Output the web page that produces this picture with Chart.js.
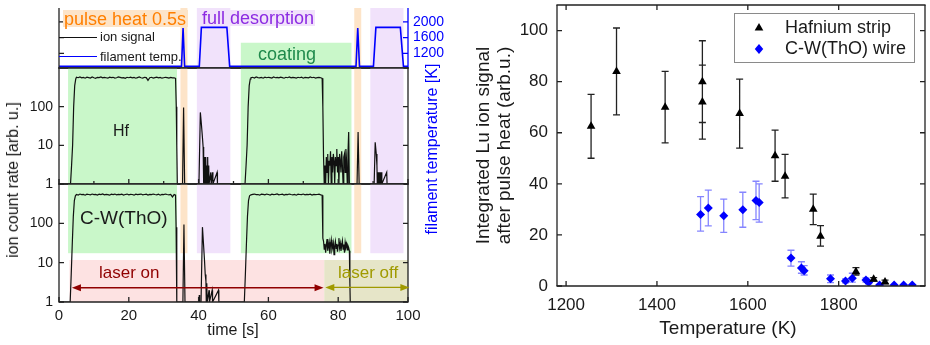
<!DOCTYPE html>
<html>
<head>
<meta charset="utf-8">
<title>Lu ion signal</title>
<script src="https://cdn.jsdelivr.net/npm/chart.js@4.4.1/dist/chart.umd.min.js"></script>
<style>
  body { margin: 0; background: #fff; }
  #fig { position: relative; width: 930px; height: 345px; overflow: hidden;
         font-family: 'Liberation Sans', Arial, sans-serif; color: #1a1a1a; }
  #fig canvas { position: absolute; }
  .txt { position: absolute; white-space: nowrap; }
  .rot { transform: translate(-50%, -50%) rotate(-90deg); }
  .key { position: absolute; height: 0; width: 38px; }
</style>
</head>
<body>
<div id="fig">
  <canvas id="tempChart" width="470" height="88" style="left:0;top:-6px"></canvas>
  <canvas id="hfChart" width="470" height="146" style="left:0;top:53px"></canvas>
  <canvas id="cwChart" width="470" height="176" style="left:0;top:169px"></canvas>
  <canvas id="intChart" width="470" height="360" style="left:460px;top:-15px"></canvas>

  <div class="txt" style="left:63px;top:10px;width:124px;height:17px;padding-left:1px;font-size:18px;line-height:19px;background:#fde4c8;color:#ff7f00;">pulse heat 0.5s</div>
  <div class="txt" style="left:199px;top:10px;width:113px;height:16px;padding-left:3px;font-size:18px;line-height:16px;background:#f1e2fb;color:#8c2be2;">full desorption</div>
  <div class="txt" style="left:258px;top:45px;font-size:18px;line-height:18px;color:#208a4c;">coating</div>
  <div class="key" style="left:59px;top:37px;border-top:1.5px solid #111;"></div>
  <div class="txt" style="left:100px;top:30px;font-size:13px;line-height:14px;">ion signal</div>
  <div class="key" style="left:59px;top:56px;border-top:1.5px solid #0000ff;"></div>
  <div class="txt" style="left:100px;top:50px;font-size:13px;line-height:14px;">filament temp.</div>
  <div class="txt" style="left:113px;top:123px;font-size:16px;line-height:16px;">Hf</div>
  <div class="txt" style="left:80px;top:208px;font-size:19px;line-height:19px;">C-W(ThO)</div>
  <div class="txt" style="left:99px;top:264px;font-size:17px;line-height:17px;color:#900000;">laser on</div>
  <div class="txt" style="left:338px;top:264px;font-size:17px;line-height:17px;color:#a09a00;">laser off</div>
  <div class="txt rot" style="left:13px;top:180px;font-size:16px;line-height:16px;">ion count rate [arb. u.]</div>
  <div class="txt rot" style="left:432px;top:149px;font-size:16px;line-height:16px;color:#0000ff;">filament temperature [K]</div>
  <div class="txt" style="left:233px;top:322px;font-size:16px;line-height:16px;transform:translateX(-50%);">time [s]</div>
  <div class="txt" style="left:728px;top:318px;font-size:19px;line-height:19px;transform:translateX(-50%);">Temperature (K)</div>
</div>

<script>
// ---- left panel: time traces, [time (s), value] ----
const filamentTemp = [
  [0, 870], [35.1, 870], [35.55, 1840], [36.0, 870],
  [40.2, 870], [40.8, 1860], [48.1, 1860], [48.9, 870],
  [85.1, 870], [85.6, 1840], [86.1, 870],
  [90.1, 870], [90.8, 1860], [97.8, 1860], [98.7, 870], [100, 870]
];

const hfIon = [
  [0, 1], [3.3, 1], [3.6, 3], [3.9, 10], [4.2, 100], [4.5, 350], [4.8, 520],
  [5, 575], [5.5, 560], [6, 590], [6.5, 555], [7, 570], [7.5, 545], [8, 580], [8.5, 565], [9, 550], [9.5, 585],
  [10, 560], [10.5, 540], [11, 575], [11.5, 565], [12, 590], [12.5, 555], [13, 570], [13.5, 560], [14, 545], [14.5, 580],
  [15, 565], [15.5, 575], [16, 550], [16.5, 560], [17, 585], [17.5, 570], [18, 555], [18.5, 565], [19, 540], [19.5, 575],
  [20, 560], [20.5, 580], [21, 555], [21.5, 570], [22, 545], [22.5, 565], [23, 585], [23.5, 560], [24, 550], [24.5, 575],
  [25, 565], [25.5, 480], [26, 560], [26.5, 575], [27, 550], [27.5, 565], [28, 580], [28.5, 555], [29, 570], [29.5, 545],
  [30, 560], [30.5, 575], [31, 565], [31.5, 550], [32, 570], [32.5, 555], [33, 560],
  [33.4, 540], [33.6, 100], [33.75, 10], [33.9, 1],
  [35.4, 1], [35.7, 95], [36, 1],
  [40.1, 1], [40.5, 71], [40.8, 35], [41.1, 16], [41.3, 9], [41.4, 1], [41.5, 5], [41.6, 1], [41.7, 5], [41.8, 1],
  [41.9, 4], [42, 1], [42.1, 5], [42.2, 1], [42.35, 3], [42.45, 1], [42.6, 5], [42.7, 1], [42.9, 3], [43, 1],
  [43.5, 2], [43.6, 1], [44, 2], [44.1, 1], [45.3, 2], [45.4, 1],
  [53.3, 1], [53.6, 3], [53.9, 10], [54.2, 100], [54.5, 350], [54.8, 520],
  [55, 560], [55.5, 575], [56, 550], [56.5, 585], [57, 565], [57.5, 555], [58, 570], [58.5, 545], [59, 580], [59.5, 560],
  [60, 575], [60.5, 565], [61, 550], [61.5, 590], [62, 560], [62.5, 570], [63, 555], [63.5, 580], [64, 565], [64.5, 545],
  [65, 575], [65.5, 560], [66, 585], [66.5, 555], [67, 570], [67.5, 565], [68, 550], [68.5, 575], [69, 560], [69.5, 580],
  [70, 545], [70.5, 570], [71, 565], [71.5, 555], [72, 585], [72.5, 560], [73, 575], [73.5, 550], [74, 565], [74.5, 570], [75, 560],
  [75.4, 540], [75.6, 100], [75.8, 5], [76, 1],
  [76.2, 3], [76.4, 1], [76.6, 5], [76.8, 2], [77, 6], [77.2, 1], [77.4, 4], [77.6, 3], [77.8, 7], [78, 1],
  [78.2, 5], [78.4, 2], [78.6, 6], [78.8, 4], [79, 1], [79.2, 5], [79.4, 3], [79.6, 8], [79.8, 2], [80, 5],
  [80.2, 1], [80.4, 6], [80.6, 4], [80.8, 2], [81, 7], [81.2, 3], [81.4, 1], [81.6, 5], [81.8, 6], [82, 2],
  [82.2, 8], [82.4, 4], [82.6, 1], [82.8, 6], [83, 22], [83.2, 1],
  [85.4, 1], [85.7, 22], [86, 1],
  [90.3, 1], [90.6, 12], [90.9, 6], [91.1, 3], [91.2, 1], [91.4, 2], [91.5, 1], [91.7, 2], [91.8, 1],
  [92, 2], [92.1, 1], [92.4, 2], [92.5, 1], [93.9, 2], [94, 1], [100, 1]
];

const cwIon = [
  [0, 1], [3.2, 1], [3.5, 5], [3.8, 30], [4.1, 150], [4.4, 380], [4.7, 500],
  [5, 540], [5.5, 525], [6, 555], [6.5, 535], [7, 545], [7.5, 520], [8, 550], [8.5, 540], [9, 530], [9.5, 555],
  [10, 535], [10.5, 545], [11, 525], [11.5, 550], [12, 540], [12.5, 560], [13, 530], [13.5, 545], [14, 535], [14.5, 520],
  [15, 550], [15.5, 540], [16, 555], [16.5, 530], [17, 545], [17.5, 535], [18, 550], [18.5, 525], [19, 540], [19.5, 555],
  [20, 530], [20.5, 545], [21, 540], [21.5, 520], [22, 550], [22.5, 535], [23, 545], [23.5, 555], [24, 530], [24.5, 540],
  [25, 550], [25.5, 525], [26, 545], [26.5, 535], [27, 555], [27.5, 540], [28, 530], [28.5, 550], [29, 520], [29.5, 545],
  [30, 535], [30.5, 555], [31, 540], [31.5, 530], [32, 545], [32.5, 470], [33, 540],
  [33.4, 520], [33.55, 80], [33.7, 5], [33.8, 1],
  [35.5, 1], [35.8, 93], [36.1, 1],
  [40.1, 1], [40.2, 1.5], [40.3, 1], [40.7, 1], [41.1, 80], [41.4, 30], [41.7, 11], [41.9, 5], [42.1, 3.4], [42.2, 1],
  [42.35, 3], [42.45, 1], [43, 2], [43.1, 1], [43.9, 2], [44, 1], [45.7, 2], [45.8, 1],
  [53.1, 1], [53.4, 5], [53.7, 30], [54, 150], [54.3, 380], [54.6, 500],
  [55, 530], [55.5, 545], [56, 555], [56.5, 535], [57, 540], [57.5, 520], [58, 550], [58.5, 545], [59, 530], [59.5, 555],
  [60, 540], [60.5, 525], [61, 550], [61.5, 535], [62, 545], [62.5, 560], [63, 530], [63.5, 540], [64, 550], [64.5, 525],
  [65, 545], [65.5, 535], [66, 555], [66.5, 540], [67, 530], [67.5, 545], [68, 520], [68.5, 550], [69, 540], [69.5, 535],
  [70, 555], [70.5, 530], [71, 545], [71.5, 540], [72, 550], [72.5, 525], [73, 545], [73.5, 535], [74, 540], [74.5, 550], [75, 530],
  [75.4, 520], [75.6, 42],
  [75.8, 35], [76, 22], [76.2, 30], [76.4, 18], [76.6, 28], [76.8, 40], [77, 20], [77.2, 26], [77.4, 33], [77.6, 17],
  [77.8, 29], [78, 38], [78.2, 21], [78.4, 25], [78.6, 32], [78.8, 16], [79, 27], [79.2, 35], [79.4, 23], [79.6, 30],
  [79.8, 19], [80, 28], [80.2, 42], [80.4, 24], [80.6, 31], [80.8, 20], [81, 27], [81.2, 36], [81.4, 22], [81.6, 29],
  [81.8, 18], [82, 33], [82.2, 25], [82.4, 30], [82.6, 21], [82.8, 27], [83, 24], [83.2, 20],
  [83.35, 3], [83.45, 1], [100, 1]
];

// shaded phases (time in s)
const coatingSpans = [[2.6, 33.8], [52.1, 83.8]];
const pulseSpans = [[34.8, 36.8], [84.6, 86.6]];
const desorbSpans = [[39.5, 49.1], [89.2, 98.7]];
const laserOnSpan = [3.0, 76.0];
const laserOffSpan = [76.0, 100];
const laserOnArrow = [3.7, 75.8];
const laserOffArrow = [76.3, 100.4];

const timeTicks = [0, 20, 40, 60, 80, 100];
const tempTicks = [1200, 1600, 2000];
const countTicks = [1, 10, 100];

// ---- right panel: integrated signal vs temperature ----
const hfTemp = [1255, 1311, 1418, 1500, 1500, 1582, 1660, 1682, 1744, 1760, 1838, 1877, 1902];
const hfInt = [62.5, 84, 70, 80, 72, 67.5, 51, 43, 30, 19.5, 5.6, 2.6, 1.6];
const hfLow = [50, 67, 56, 64, 57.5, 54, 41, 34.5, 24, 15.6, 4.3, 1.9, 0.9];
const hfHigh = [75, 101, 84, 96, 86.5, 81, 61, 51.5, 36, 23.6, 7.2, 3.3, 2.3];

const cwTemp = [1496, 1513, 1547, 1589, 1618, 1625, 1695, 1718, 1724, 1782, 1815, 1830, 1860, 1866, 1890, 1922, 1943, 1962];
const cwInt = [28, 30.5, 27.5, 29.8, 33.5, 32.7, 11, 7, 6, 2.8, 2, 3, 2.3, 1.4, 0.4, 0.4, 0.4, 0.4];
const cwLow = [21.5, 23.5, 21, 23, 26, 25, 7.8, 5, 4.3, 1.3, 1.2, 1.5, 1.5, 0.8, 0.2, 0.2, 0.2, 0.2];
const cwHigh = [35, 37.5, 34, 36.7, 41, 40, 14, 9.5, 8, 4.3, 2.8, 5, 3.2, 2.2, 0.6, 0.6, 0.6, 0.6];

const tempAxisSteps = [1200, 1300, 1400, 1500, 1600, 1700, 1800, 1900];
const tempAxisTicks = [1200, 1400, 1600, 1800];
const intAxisSteps = [0, 10, 20, 30, 40, 50, 60, 70, 80, 90, 100, 110];
const intAxisTicks = [0, 20, 40, 60, 80, 100];

// colours
const GREEN = '#c9f7c9', ORANGE = '#fde4c8', PURPLE = '#f1e2fb', PINK = '#fde2e2', OLIVE = '#e6e5c8';
const INK = '#1a1a1a';

Chart.defaults.font.family = "'Liberation Sans', Arial, sans-serif";
Chart.defaults.color = INK;

const isDecade = v => Math.abs(Math.log10(v) - Math.round(Math.log10(v))) < 1e-6;
const pts = arr => arr.map(p => ({x: p[0], y: p[1]}));
const fixedTicks = list => s => { s.ticks = list.map(v => ({value: v})); };

// shaded rectangles behind the traces
function bandsPlugin(list, yId) {
  return {
    id: 'bands',
    beforeDatasetsDraw(chart) {
      const {ctx, chartArea: a} = chart;
      const xs = chart.scales.x, ys = chart.scales[yId];
      ctx.save();
      ctx.beginPath();
      ctx.rect(a.left, a.top, a.right - a.left, a.bottom - a.top);
      ctx.clip();
      list.forEach(b => {
        const x0 = xs.getPixelForValue(b.x[0]), x1 = xs.getPixelForValue(b.x[1]);
        const top = b.y ? ys.getPixelForValue(b.y[1]) : a.top;
        const bot = b.y ? ys.getPixelForValue(b.y[0]) : a.bottom;
        ctx.fillStyle = b.color;
        ctx.fillRect(x0, top, x1 - x0, bot - top);
      });
      ctx.restore();
    }
  };
}

// box lines with inward ticks
function framePlugin(sides) {
  return {
    id: 'frame',
    afterDatasetsDraw(chart) {
      const {ctx, chartArea: a} = chart;
      ctx.save();
      ctx.lineWidth = 1.3;
      sides.forEach(s => {
        const sc = chart.scales[s.scale];
        const horiz = s.side === 'top' || s.side === 'bottom';
        const edge = a[s.side];
        const dir = (s.side === 'left' || s.side === 'top') ? 1 : -1;
        ctx.strokeStyle = s.color || '#222';
        ctx.beginPath();
        if (horiz) { ctx.moveTo(a.left - 0.6, edge); ctx.lineTo(a.right + 0.6, edge); }
        else { ctx.moveTo(edge, a.top); ctx.lineTo(edge, a.bottom); }
        if (s.major) {
          sc.ticks.forEach(t => {
            const p = sc.getPixelForValue(t.value);
            const lo = horiz ? a.left : a.top, hi = horiz ? a.right : a.bottom;
            if (p < lo - 0.5 || p > hi + 0.5) return;
            const len = s.major(t.value) ? 5 : 3;
            if (horiz) { ctx.moveTo(p, edge); ctx.lineTo(p, edge + dir * len); }
            else { ctx.moveTo(edge, p); ctx.lineTo(edge + dir * len, p); }
          });
        }
        ctx.stroke();
      });
      ctx.restore();
    }
  };
}

function arrowsPlugin(list) {
  return {
    id: 'arrows',
    afterDatasetsDraw(chart) {
      const {ctx} = chart;
      const xs = chart.scales.x, ys = chart.scales.y;
      ctx.save();
      list.forEach(ar => {
        const x0 = xs.getPixelForValue(ar.x[0]), x1 = xs.getPixelForValue(ar.x[1]);
        const y = ys.getPixelForValue(ar.y);
        ctx.strokeStyle = ar.color; ctx.fillStyle = ar.color; ctx.lineWidth = 1.4;
        ctx.beginPath(); ctx.moveTo(x0 + 6, y); ctx.lineTo(x1 - 6, y); ctx.stroke();
        ctx.beginPath(); ctx.moveTo(x0, y); ctx.lineTo(x0 + 9, y - 3.5); ctx.lineTo(x0 + 9, y + 3.5); ctx.closePath(); ctx.fill();
        ctx.beginPath(); ctx.moveTo(x1, y); ctx.lineTo(x1 - 9, y - 3.5); ctx.lineTo(x1 - 9, y + 3.5); ctx.closePath(); ctx.fill();
      });
      ctx.restore();
    }
  };
}

const timeMajor = v => v % 20 === 0;
const xHidden = {
  type: 'linear', min: 0, max: 100,
  grid: {display: false, drawTicks: false}, border: {display: false},
  ticks: {display: false, stepSize: 10},
  afterFit: s => { s.height = 0; }
};
const logAxis = {
  type: 'logarithmic', min: 1, max: 1000,
  grid: {display: false, drawTicks: false}, border: {display: false},
  ticks: {autoSkip: false, padding: 6, font: {size: 14},
          callback: v => (isDecade(v) && countTicks.includes(Math.round(v))) ? String(Math.round(v)) : null},
  afterFit: s => { s.width = 59; }
};
const baseOpts = {
  responsive: false, animation: false, events: [],
  plugins: {legend: {display: false}, tooltip: {enabled: false}}
};
const traceStyle = {showLine: true, pointRadius: 0, borderColor: '#111', borderWidth: 1.2, tension: 0};

// top: filament temperature
new Chart('tempChart', {
  type: 'scatter',
  data: {datasets: [{data: pts(filamentTemp), yAxisID: 'yT', showLine: true, pointRadius: 0,
                     borderColor: '#0000ff', borderWidth: 1.6}]},
  options: Object.assign({}, baseOpts, {
    layout: {padding: {top: 14, bottom: 14, left: 59, right: 0}},
    scales: {
      x: xHidden,
      yT: {type: 'linear', position: 'right', min: 830, max: 2350,
           grid: {display: false, drawTicks: false}, border: {display: false},
           ticks: {stepSize: 200, includeBounds: false, autoSkip: false, padding: 5, color: '#0000ff', font: {size: 14},
                   callback: v => tempTicks.includes(v) ? String(v) : null},
           afterFit: s => { s.width = 62; }}
    }
  }),
  plugins: [
    bandsPlugin([
      {x: pulseSpans[0], color: ORANGE}, {x: pulseSpans[1], color: ORANGE},
      {x: desorbSpans[0], color: PURPLE}, {x: desorbSpans[1], color: PURPLE},
      {x: coatingSpans[1], y: [830, 1470], color: GREEN}
    ], 'yT'),
    framePlugin([
      {side: 'left', scale: 'yT', major: v => v % 400 === 0},
      {side: 'right', scale: 'yT', color: '#0000ff', major: v => v % 400 === 0},
      {side: 'bottom', scale: 'x'}
    ])
  ]
});

// middle: Hf strip
new Chart('hfChart', {
  type: 'scatter',
  data: {datasets: [Object.assign({data: pts(hfIon)}, traceStyle)]},
  options: Object.assign({}, baseOpts, {
    layout: {padding: {top: 15, bottom: 15, left: 0, right: 62}},
    scales: {x: xHidden, y: logAxis}
  }),
  plugins: [
    bandsPlugin([
      {x: coatingSpans[0], color: GREEN}, {x: coatingSpans[1], color: GREEN},
      {x: pulseSpans[0], color: ORANGE}, {x: pulseSpans[1], color: ORANGE},
      {x: desorbSpans[0], color: PURPLE}, {x: desorbSpans[1], color: PURPLE}
    ], 'y'),
    framePlugin([
      {side: 'left', scale: 'y', major: isDecade},
      {side: 'right', scale: 'y', major: isDecade},
      {side: 'top', scale: 'x'},
      {side: 'bottom', scale: 'x', major: timeMajor}
    ])
  ]
});

// bottom: C-W(ThO) wire
new Chart('cwChart', {
  type: 'scatter',
  data: {datasets: [Object.assign({data: pts(cwIon)}, traceStyle)]},
  options: Object.assign({}, baseOpts, {
    layout: {padding: {top: 15, bottom: 0, left: 0, right: 62}},
    scales: {
      x: {type: 'linear', min: 0, max: 100,
          grid: {display: false, drawTicks: false}, border: {display: false},
          ticks: {stepSize: 10, autoSkip: false, maxRotation: 0, padding: 5, font: {size: 15},
                  callback: v => timeTicks.includes(v) ? String(v) : null},
          afterFit: s => { s.height = 43; }},
      y: logAxis
    }
  }),
  plugins: [
    bandsPlugin([
      {x: coatingSpans[0], y: [17.4, 1000], color: GREEN}, {x: coatingSpans[1], y: [17.4, 1000], color: GREEN},
      {x: pulseSpans[0], y: [17.4, 1000], color: ORANGE}, {x: pulseSpans[1], y: [17.4, 1000], color: ORANGE},
      {x: desorbSpans[0], y: [17.4, 1000], color: PURPLE}, {x: desorbSpans[1], y: [17.4, 1000], color: PURPLE},
      {x: laserOnSpan, y: [1, 11.7], color: PINK}, {x: laserOffSpan, y: [1, 11.7], color: OLIVE}
    ], 'y'),
    framePlugin([
      {side: 'left', scale: 'y', major: isDecade},
      {side: 'right', scale: 'y', major: isDecade},
      {side: 'top', scale: 'x'},
      {side: 'bottom', scale: 'x', major: timeMajor}
    ]),
    arrowsPlugin([
      {x: laserOnArrow, y: 2.3, color: '#900000'},
      {x: laserOffArrow, y: 2.35, color: '#a09a00'}
    ])
  ]
});

// right panel
function triangle(ctx, x, y, r) {
  ctx.beginPath();
  ctx.moveTo(x, y - r);
  ctx.lineTo(x + r * 0.866, y + r * 0.5);
  ctx.lineTo(x - r * 0.866, y + r * 0.5);
  ctx.closePath(); ctx.fill();
}
function diamond(ctx, x, y, r) {
  ctx.beginPath();
  ctx.moveTo(x, y - r); ctx.lineTo(x + r * 0.85, y); ctx.lineTo(x, y + r); ctx.lineTo(x - r * 0.85, y);
  ctx.closePath(); ctx.fill();
}

const errorBars = {
  id: 'errorBars',
  beforeDatasetsDraw(chart) {
    const {ctx} = chart;
    const xs = chart.scales.x, ys = chart.scales.y;
    const sets = [
      {t: cwTemp, lo: cwLow, hi: cwHigh, color: '#8585ff'},
      {t: hfTemp, lo: hfLow, hi: hfHigh, color: '#222'}
    ];
    ctx.save();
    ctx.lineWidth = 1.3;
    sets.forEach(e => {
      ctx.strokeStyle = e.color;
      ctx.beginPath();
      e.t.forEach((t, i) => {
        const px = xs.getPixelForValue(t);
        const lo = ys.getPixelForValue(e.lo[i]), hi = ys.getPixelForValue(e.hi[i]);
        if (Math.abs(lo - hi) < 3) return;
        ctx.moveTo(px, lo); ctx.lineTo(px, hi);
        ctx.moveTo(px - 3.5, lo); ctx.lineTo(px + 3.5, lo);
        ctx.moveTo(px - 3.5, hi); ctx.lineTo(px + 3.5, hi);
      });
      ctx.stroke();
    });
    ctx.restore();
  }
};

const legendBox = {
  id: 'legendBox',
  afterDraw(chart) {
    const {ctx, chartArea: a} = chart;
    const bx = a.right - 191, by = a.top + 8;
    ctx.save();
    ctx.fillStyle = '#fff';
    ctx.fillRect(bx, by, 180, 49);
    ctx.strokeStyle = '#8a8a8a'; ctx.lineWidth = 1;
    ctx.strokeRect(bx + 0.5, by + 0.5, 180, 49);
    ctx.fillStyle = '#000'; triangle(ctx, bx + 25, by + 15, 5);
    ctx.fillStyle = '#0000ff'; diamond(ctx, bx + 25, by + 36, 5);
    ctx.fillStyle = INK;
    ctx.font = "18px 'Liberation Sans', Arial, sans-serif";
    ctx.textBaseline = 'middle';
    ctx.fillText(chart.data.datasets[0].label, bx + 51, by + 15);
    ctx.fillText(chart.data.datasets[1].label, bx + 51, by + 36);
    ctx.restore();
  }
};

new Chart('intChart', {
  type: 'scatter',
  data: {datasets: [
    {label: 'Hafnium strip', data: hfTemp.map((t, i) => ({x: t, y: hfInt[i]})),
     pointStyle: 'triangle', pointRadius: 5, backgroundColor: '#000', borderColor: '#000', borderWidth: 0},
    {label: 'C-W(ThO) wire', data: cwTemp.map((t, i) => ({x: t, y: cwInt[i]})),
     pointStyle: 'rectRot', pointRadius: 4.5, backgroundColor: '#0000ff', borderColor: '#0000ff', borderWidth: 0}
  ]},
  options: Object.assign({}, baseOpts, {
    layout: {padding: {top: 20, bottom: 0, left: 0, right: 2}},
    scales: {
      x: {type: 'linear', min: 1180, max: 1990,
          grid: {display: false, drawTicks: false}, border: {display: false},
          afterBuildTicks: fixedTicks(tempAxisSteps),
          ticks: {autoSkip: false, maxRotation: 0, padding: 9, font: {size: 17},
                  callback: v => tempAxisTicks.includes(v) ? String(v) : null},
          afterFit: s => { s.height = 59; }},
      y: {type: 'linear', min: 0, max: 110,
          grid: {display: false, drawTicks: false}, border: {display: false},
          afterBuildTicks: fixedTicks(intAxisSteps),
          ticks: {autoSkip: false, padding: 9, font: {size: 17},
                  callback: v => intAxisTicks.includes(v) ? String(v) : null},
          title: {display: true, text: ['Integrated Lu ion signal', 'after pulse heat (arb.u.)'],
                  font: {size: 19, lineHeight: 1.1}, padding: {top: 13, bottom: 0}},
          afterFit: s => { s.width = 97; }}
    }
  }),
  plugins: [
    errorBars,
    framePlugin([
      {side: 'left', scale: 'y', major: v => v % 20 === 0},
      {side: 'right', scale: 'y', major: v => v % 20 === 0},
      {side: 'bottom', scale: 'x', major: v => v % 200 === 0},
      {side: 'top', scale: 'x', major: v => v % 200 === 0}
    ]),
    legendBox
  ]
});
</script>
</body>
</html>
